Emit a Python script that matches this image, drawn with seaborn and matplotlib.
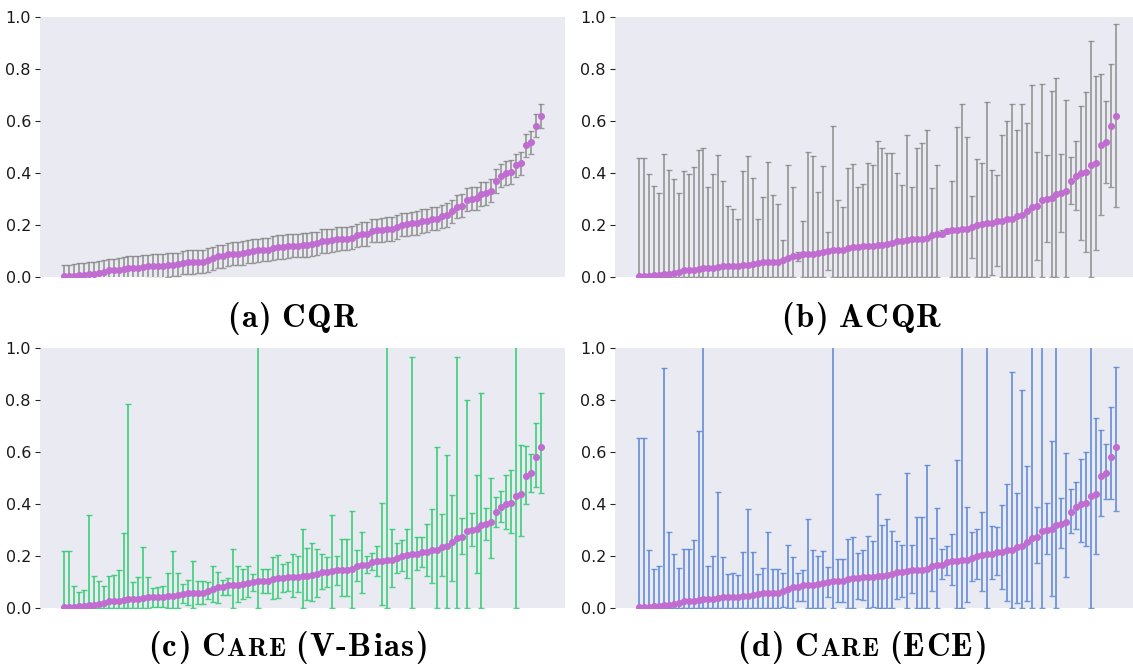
import os
import numpy as np
import matplotlib
matplotlib.use("Agg")
import matplotlib as mpl
import matplotlib.pyplot as plt
from matplotlib.font_manager import FontProperties
import seaborn as sns

# ---------------- data ----------------
mean_vals = [0.003, 0.003, 0.004, 0.008, 0.009, 0.013, 0.013, 0.017, 0.019, 0.026,
             0.026, 0.028, 0.032, 0.036, 0.036, 0.036, 0.038, 0.041, 0.042, 0.043,
             0.043, 0.046, 0.047, 0.049, 0.055, 0.058, 0.058, 0.059, 0.059, 0.066,
             0.072, 0.079, 0.079, 0.087, 0.090, 0.090, 0.093, 0.097, 0.100, 0.102,
             0.105, 0.105, 0.111, 0.116, 0.116, 0.119, 0.121, 0.121, 0.123, 0.123,
             0.127, 0.129, 0.138, 0.138, 0.141, 0.146, 0.147, 0.147, 0.151, 0.160,
             0.166, 0.166, 0.178, 0.180, 0.181, 0.184, 0.185, 0.192, 0.201, 0.203,
             0.206, 0.207, 0.216, 0.217, 0.224, 0.224, 0.233, 0.239, 0.252, 0.271,
             0.274, 0.297, 0.301, 0.302, 0.320, 0.322, 0.332, 0.370, 0.390, 0.400,
             0.404, 0.430, 0.437, 0.506, 0.518, 0.582, 0.620]

cqr_half_width = 0.045

acqr_hi = [0.458, 0.458, 0.396, 0.349, 0.325, 0.473, 0.412, 0.377, 0.324, 0.407,
           0.398, 0.423, 0.487, 0.496, 0.345, 0.396, 0.469, 0.368, 0.272, 0.261,
           0.225, 0.407, 0.465, 0.380, 0.224, 0.308, 0.442, 0.316, 0.281, 0.142,
           0.431, 0.345, 0.098, 0.216, 0.481, 0.465, 0.327, 0.427, 0.173, 0.581,
           0.297, 0.269, 0.419, 0.434, 0.347, 0.359, 0.439, 0.431, 0.522, 0.497,
           0.477, 0.477, 0.400, 0.354, 0.546, 0.348, 0.496, 0.515, 0.567, 0.341,
           0.430, 0.182, 0.186, 0.371, 0.577, 0.665, 0.537, 0.311, 0.454, 0.439,
           0.673, 0.412, 0.394, 0.545, 0.600, 0.664, 0.565, 0.664, 0.593, 0.739,
           0.481, 0.742, 0.468, 0.715, 0.766, 0.472, 0.680, 0.460, 0.522, 0.659,
           0.711, 0.907, 0.772, 0.779, 0.676, 0.820, 0.972]
acqr_lo = [0.0] * 32 + [0.061, 0, 0, 0, 0, 0, 0.028, 0, 0, 0,
                        0, 0, 0, 0, 0, 0, 0, 0, 0, 0,
                        0, 0, 0, 0, 0, 0, 0, 0, 0, 0.156,
                        0.170, 0, 0, 0, 0, 0.074, 0, 0, 0, 0.006,
                        0.042, 0, 0, 0, 0, 0, 0, 0, 0.066, 0,
                        0.134, 0, 0, 0.175, 0, 0.279, 0.258, 0.143, 0.098, 0,
                        0.105, 0.237, 0.362, 0.348, 0.270]

vbias_hi = [0.221, 0.221, 0.086, 0.063, 0.069, 0.359, 0.124, 0.105, 0.086, 0.124,
            0.128, 0.145, 0.290, 0.785, 0.099, 0.121, 0.236, 0.119, 0.077, 0.079,
            0.085, 0.133, 0.221, 0.136, 0.094, 0.108, 0.182, 0.105, 0.105, 0.099,
            0.162, 0.140, 0.108, 0.114, 0.227, 0.163, 0.151, 0.163, 0.129, 1.050,
            0.150, 0.150, 0.196, 0.203, 0.169, 0.178, 0.208, 0.200, 0.303, 0.232,
            0.249, 0.226, 0.206, 0.197, 0.356, 0.200, 0.264, 0.264, 0.372, 0.223,
            0.292, 0.200, 0.213, 0.240, 0.403, 1.050, 0.305, 0.251, 0.262, 0.303,
            0.967, 0.272, 0.274, 0.323, 0.379, 0.618, 0.362, 0.590, 0.435, 0.967,
            0.345, 0.800, 0.367, 0.510, 0.828, 0.383, 0.499, 0.426, 0.450, 0.510,
            0.531, 1.050, 0.626, 0.623, 0.592, 0.710, 0.828]
vbias_lo = [0, 0, 0, 0, 0, 0, 0, 0, 0, 0,
            0, 0, 0, 0, 0, 0, 0, 0, 0.005, 0.005,
            0.005, 0, 0, 0, 0.018, 0.010, 0, 0.015, 0.015, 0.036,
            0.023, 0.018, 0.049, 0.050, 0, 0.024, 0.033, 0.041, 0.065, 0,
            0.056, 0.056, 0.035, 0.037, 0.063, 0.064, 0.044, 0.063, 0, 0.031,
            0.027, 0.044, 0.072, 0.079, 0, 0.090, 0.046, 0.046, 0, 0.103,
            0.056, 0.136, 0.146, 0.123, 0.012, 0, 0.082, 0.133, 0.144, 0.114,
            0, 0.146, 0.159, 0.123, 0.097, 0, 0.123, 0, 0.105, 0,
            0.208, 0, 0.238, 0.133, 0, 0.262, 0.191, 0.313, 0.331, 0.303,
            0.290, 0, 0.277, 0.400, 0.447, 0.467, 0.444]

ece_hi = [0.654, 0.654, 0.222, 0.151, 0.163, 0.923, 0.292, 0.208, 0.154, 0.227,
          0.228, 0.262, 0.682, 1.050, 0.162, 0.201, 0.447, 0.196, 0.132, 0.136,
          0.127, 0.217, 0.382, 0.217, 0.132, 0.154, 0.294, 0.151, 0.151, 0.136,
          0.242, 0.195, 0.136, 0.146, 0.344, 0.223, 0.200, 0.221, 0.158, 1.050,
          0.188, 0.188, 0.264, 0.272, 0.212, 0.223, 0.277, 0.259, 0.440, 0.318,
          0.344, 0.297, 0.259, 0.244, 0.521, 0.244, 0.351, 0.351, 0.549, 0.271,
          0.385, 0.228, 0.238, 0.285, 0.569, 1.050, 0.388, 0.294, 0.305, 0.369,
          1.050, 0.315, 0.312, 0.395, 0.478, 0.908, 0.444, 0.840, 0.547, 1.050,
          0.388, 1.050, 0.405, 0.642, 1.050, 0.422, 0.597, 0.456, 0.485, 0.572,
          0.601, 1.050, 0.731, 0.686, 0.632, 0.774, 0.926]
ece_lo = [0] * 29 + [0.005, 0, 0, 0.027, 0.027, 0, 0, 0, 0, 0.044, 0,
                     0.024, 0.024, 0, 0, 0.033, 0.029, 0, 0.005, 0, 0,
                     0, 0, 0.033, 0.044, 0, 0.059, 0, 0, 0, 0.067,
                     0, 0.113, 0.128, 0.090, 0, 0, 0.023, 0.103, 0.113, 0.065,
                     0, 0.113, 0.126, 0.072, 0.027, 0, 0.021, 0, 0.027, 0,
                     0.174, 0, 0.206, 0.046, 0, 0.232, 0.121, 0.290, 0.305, 0.255,
                     0.238, 0, 0.206, 0.354, 0.418, 0.418, 0.374]

y_ticks = [0.0, 0.2, 0.4, 0.6, 0.8, 1.0]

# ---------------- style ----------------
sns.set_style("dark", {"ytick.left": True, "axes.facecolor": "#EAEAF2"})
plt.rcParams["font.family"] = ["DejaVu Sans"]

W, H = 1133, 666
fig = plt.figure(figsize=(W / 100, H / 100), dpi=100)

purple = "#c06cd0"


def make_ax(left_px, top_px):
    return fig.add_axes([left_px / W, (H - top_px - 260) / H, 525 / W, 260 / H])


panels = [
    (make_ax(40, 17), None, None, "gray", 0.75),
    (make_ax(615, 17), acqr_lo, acqr_hi, "gray", 0.75),
    (make_ax(40, 348), vbias_lo, vbias_hi, "#2ecc71", 0.85),
    (make_ax(615, 348), ece_lo, ece_hi, "#5a86d6", 0.85),
]

m = np.array(mean_vals)
idx = np.arange(len(m))

for ax, lo, hi, col, a in panels:
    if lo is None:
        err = [np.full(len(m), cqr_half_width), np.full(len(m), cqr_half_width)]
    else:
        lo_a = np.array(lo, dtype=float)
        hi_a = np.array(hi, dtype=float)
        err = [np.maximum(m - lo_a, 0), np.maximum(hi_a - m, 0)]
    ax.errorbar(idx, m, yerr=err, fmt="none", ecolor=col, elinewidth=1.3,
                capsize=2.5, capthick=1.0, alpha=a, zorder=2)
    sns.scatterplot(x=idx, y=m, ax=ax, color=purple, s=26, linewidth=0,
                    zorder=3, legend=False)
    ax.set_ylim(0, 1)
    ax.set_yticks(y_ticks)
    ax.set_yticklabels([f"{t:.1f}" for t in y_ticks])
    ax.set_xticks([])
    ax.set_xlabel("")
    ax.set_ylabel("")
    ax.tick_params(axis="y", labelsize=11.5, length=3.5, width=0.8,
                   color=".15", labelcolor=".1", pad=3)
    for s in ax.spines.values():
        s.set_visible(False)

# ---------------- captions (bold Computer Modern, small caps) ----------------
cm_path = os.path.join(mpl.get_data_path(), "fonts", "ttf", "cmb10.ttf")
BIG = 23.5
SMALL = 18.5
TRACK = 1.5      # extra px between letters (wider "bold extended" look)
SPACE = 9.0      # px for an inter-word space


def fp(size):
    return FontProperties(fname=cm_path, size=size)


captions = [
    (292, 327, [("(a)", BIG), (" ", BIG), ("CQR", BIG)]),
    (861, 327, [("(b)", BIG), (" ", BIG), ("ACQR", BIG)]),
    (288, 656, [("(c)", BIG), (" ", BIG), ("C", BIG), ("ARE", SMALL), (" ", BIG),
                ("(V-Bias)", BIG)]),
    (862, 656, [("(d)", BIG), (" ", BIG), ("C", BIG), ("ARE", SMALL), (" ", BIG),
                ("(ECE)", BIG)]),
]

renderer = fig.canvas.get_renderer()
for cx, base_y, pieces in captions:
    objs = []
    widths = []
    for txt, size in pieces:
        if txt == " ":
            objs.append(None)
            widths.append(SPACE)
            continue
        for ch in txt:
            t = fig.text(0, 0, ch, fontproperties=fp(size), ha="left",
                         va="baseline", color="black")
            bb = t.get_window_extent(renderer)
            objs.append(t)
            widths.append(bb.width + TRACK)
    total = sum(widths) - TRACK
    x = cx - total / 2
    for t, w in zip(objs, widths):
        if t is not None:
            t.set_position((x / W, (H - base_y) / H))
        x += w

fig.savefig("out.png", dpi=100)
